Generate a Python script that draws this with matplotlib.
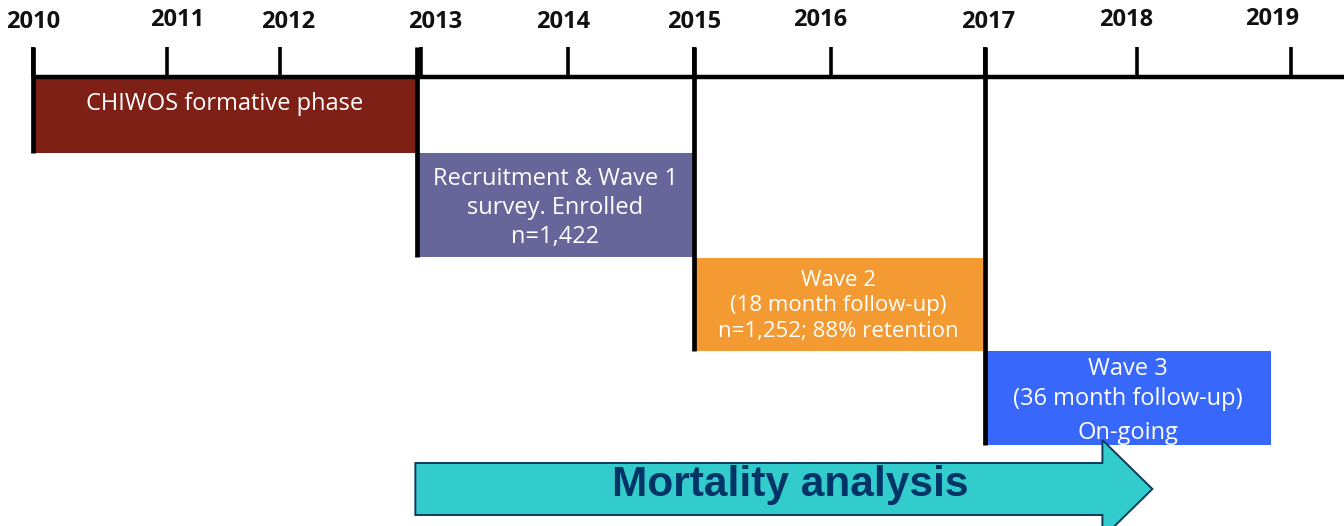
"""
CHIWOS study timeline: formative phase, three survey waves and the
mortality analysis window, laid out on an (uneven) year axis.
"""

import numpy as np
import matplotlib

matplotlib.use("Agg")
import matplotlib.pyplot as plt
from matplotlib.patches import Polygon

# ---- data ----
YEARS = [2010, 2011, 2012, 2013, 2014, 2015, 2016, 2017, 2018, 2019]
# the axis in the source drawing is hand-placed, so years are not evenly spaced
YEAR_X = [33, 167, 280, 421, 568, 694, 831, 985, 1137, 1291]

PHASE_LABELS = [
    "CHIWOS formative phase",
    "Recruitment & Wave 1\nsurvey. Enrolled\nn=1,422",
    "Wave 2\n(18 month follow-up)\nn=1,252; 88% retention",
    "Wave 3\n(36 month follow-up)",
]
PHASE_NOTES = ["", "", "", "On-going"]
PHASE_START = [2010.0, 2012.97, 2015.0, 2017.0]
PHASE_END = [2012.97, 2015.0, 2016.99, 2018.87]
PHASE_COLORS = ["#7f2017", "#67669a", "#f39a33", "#3767fb"]

ANALYSIS_LABEL = "Mortality analysis"
ANALYSIS_START = 2012.96
ANALYSIS_END = 2018.10


def to_x(year):
    return np.interp(year, YEARS, YEAR_X)


fig = plt.figure(figsize=(13.44, 5.26), dpi=100)
ax = fig.add_axes([0, 0, 1, 1])
ax.set_xlim(0, 1344)
ax.set_ylim(526, 0)
ax.axis("off")

# ---- axis line, ticks, year labels ----
axis_y = 77
ax.plot([to_x(2010), 1344], [axis_y, axis_y], color="black", lw=3.2,
        solid_capstyle="butt", zorder=3)
ax.vlines(to_x(YEARS), 47, axis_y, color="black", lw=2.6, zorder=3)

label_dx = [0, 10, 8, 14, -5, 0, -11, 3, -11, -19]
label_y = [22, 20, 22, 22, 22, 22, 20, 22, 20, 19]
for yr, dx, ly in zip(YEARS, label_dx, label_y):
    ax.text(to_x(yr) + dx, ly, str(yr), ha="center", va="center",
            fontsize=17, fontweight="bold", family="Open Sans",
            color="#111111")

# ---- phase boxes (stair-stepped rows) ----
row_top = [79, 153, 258, 351]
row_bot = [153, 257, 351, 445]
text_y = [104, 208, 306, 384]
text_size = [17, 17, 16, 17]
for i, label in enumerate(PHASE_LABELS):
    x0, x1 = to_x(PHASE_START[i]), to_x(PHASE_END[i])
    ax.barh((row_top[i] + row_bot[i]) / 2, x1 - x0, left=x0,
            height=row_bot[i] - row_top[i], color=PHASE_COLORS[i], zorder=2)
    ax.text((x0 + x1) / 2, text_y[i], label, ha="center", va="center",
            color="white", fontsize=text_size[i], family="Open Sans",
            linespacing=1.3, zorder=4)
    if PHASE_NOTES[i]:
        ax.text((x0 + x1) / 2, 433, PHASE_NOTES[i], ha="center", va="center",
                color="white", fontsize=text_size[i], family="Open Sans",
                zorder=4)

# black markers down the left edge of each phase
line_bottom = [153, 257, 351, 445]
for start, bottom in zip(PHASE_START, line_bottom):
    ax.vlines(to_x(start), 47, bottom, color="black", lw=3.4, zorder=3)

# ---- mortality analysis arrow ----
ax_x0, ax_tip = to_x(ANALYSIS_START), to_x(ANALYSIS_END)
head_base = ax_tip - 50
body_top, body_bot, mid = 463, 515, 489
arrow = Polygon(
    [(ax_x0, body_top), (head_base, body_top), (head_base, 440),
     (ax_tip, mid), (head_base, 538), (head_base, body_bot), (ax_x0, body_bot)],
    closed=True, facecolor="#33cccc", edgecolor="#0d3b5e", lw=1.4, zorder=2,
)
ax.add_patch(arrow)
ax.text(790, 485, ANALYSIS_LABEL, ha="center", va="center", fontsize=30.5,
        fontweight="bold", family="Liberation Sans", color="#003366", zorder=4)

fig.savefig("out.png", dpi=100)
